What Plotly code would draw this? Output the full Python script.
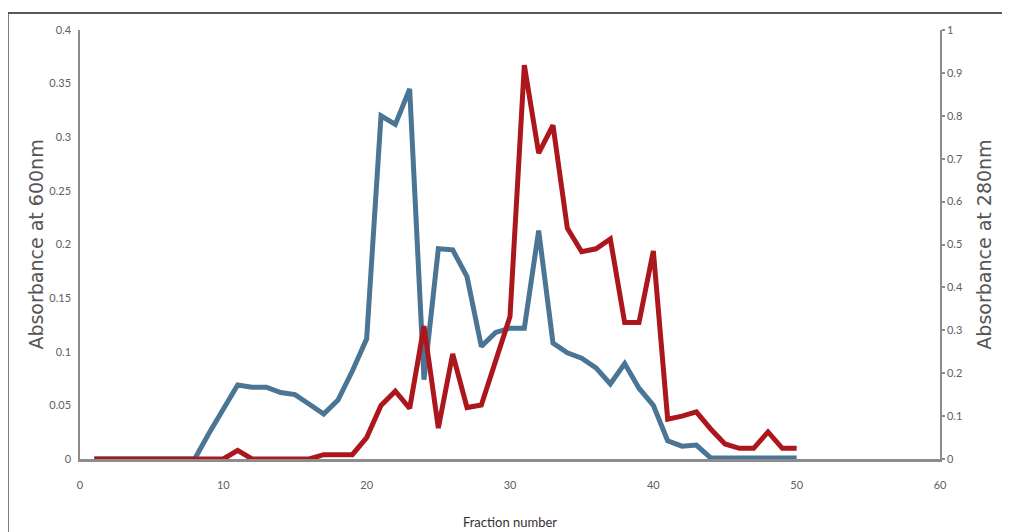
import plotly.graph_objects as go

fractions = [1, 2, 3, 4, 5, 6, 7, 8, 9, 10,
             11, 12, 13, 14, 15, 16, 17, 18, 19, 20,
             21, 22, 23, 24, 25, 26, 27, 28, 29, 30,
             31, 32, 33, 34, 35, 36, 37, 38, 39, 40,
             41, 42, 43, 44, 45, 46, 47, 48, 49, 50]

abs600 = [0, 0, 0, 0, 0, 0, 0, 0, 0.024, 0.047,
          0.069, 0.067, 0.067, 0.062, 0.060, 0.051, 0.042, 0.055, 0.082, 0.112,
          0.320, 0.312, 0.345, 0.074, 0.196, 0.195, 0.170, 0.105, 0.118, 0.122,
          0.122, 0.213, 0.108, 0.099, 0.094, 0.085, 0.070, 0.089, 0.066, 0.050,
          0.017, 0.012, 0.013, 0.001, 0.001, 0.001, 0.001, 0.001, 0.001, 0.001]

abs280 = [0, 0, 0, 0, 0, 0, 0, 0, 0, 0,
          0.020, 0, 0, 0, 0, 0, 0.010, 0.010, 0.010, 0.050,
          0.125, 0.158, 0.118, 0.310, 0.072, 0.245, 0.120, 0.126, 0.230, 0.332,
          0.918, 0.713, 0.778, 0.538, 0.483, 0.490, 0.513, 0.318, 0.318, 0.485,
          0.093, 0.100, 0.110, 0.070, 0.035, 0.025, 0.025, 0.063, 0.025, 0.025]

x_ticks = [0, 10, 20, 30, 40, 50, 60]
left_ticks = [0, 0.05, 0.1, 0.15, 0.2, 0.25, 0.3, 0.35, 0.4]
right_ticks = [0, 0.1, 0.2, 0.3, 0.4, 0.5, 0.6, 0.7, 0.8, 0.9, 1]

BLUE = "#4a7595"
RED = "#ab171c"
GRAY_TXT = "#606060"
AXIS = "#8c8c8c"
FONT = "Lato, 'Open Sans', sans-serif"
TITLE_FONT = "'DejaVu Sans', Verdana, sans-serif"

fig = go.Figure()
fig.add_trace(go.Scatter(x=fractions, y=abs600, mode="lines",
                         line=dict(color=BLUE, width=5), yaxis="y",
                         name="Absorbance at 600nm"))
fig.add_trace(go.Scatter(x=fractions, y=abs280, mode="lines",
                         line=dict(color=RED, width=5), yaxis="y2",
                         name="Absorbance at 280nm"))

fig.update_layout(
    width=1002, height=524,
    margin=dict(l=72, r=70, t=22, b=73),
    paper_bgcolor="white", plot_bgcolor="white",
    showlegend=False,
    font=dict(family=FONT, color=GRAY_TXT, size=11),
    xaxis=dict(
        range=[0, 60], tickvals=x_ticks, ticktext=[str(v) for v in x_ticks],
        automargin=False,
        showgrid=False, zeroline=False, showline=True, linecolor=AXIS, linewidth=2.5,
        ticks="", ticklabelstandoff=14,
        title=dict(text="Fraction number", font=dict(family=FONT, size=13, color="#333333"), standoff=28),
    ),
    yaxis=dict(
        range=[0, 0.4], tickvals=left_ticks, ticktext=[f"{v:g}" for v in left_ticks],
        automargin=False,
        showgrid=False, zeroline=False, showline=True, linecolor=AXIS, linewidth=1.5,
        ticks="", ticklabelstandoff=5,
        title=dict(text="Absorbance at 600nm", font=dict(family=TITLE_FONT, size=19, color="#555555"), standoff=1),
    ),
    yaxis2=dict(
        range=[0, 1], tickvals=right_ticks, ticktext=[f"{v:g}" for v in right_ticks],
        overlaying="y", side="right", anchor="x", automargin=False,
        showgrid=False, zeroline=False, showline=True, linecolor=AXIS, linewidth=1.5,
        ticks="outside", ticklen=3, tickcolor=AXIS, tickwidth=1.5, ticklabelstandoff=0,
        title=dict(text="Absorbance at 280nm", font=dict(family=TITLE_FONT, size=19, color="#555555"), standoff=16),
    ),
    shapes=[
        dict(type="line", xref="paper", yref="paper",
             x0=(8 - 80) / 860, x1=(1012 - 80) / 860,
             y0=(459 - 13) / 429, y1=(459 - 13) / 429,
             line=dict(color="#222222", width=1.5)),
        dict(type="line", xref="paper", yref="paper",
             x0=(8 - 80) / 860, x1=(8 - 80) / 860,
             y0=(459 - 13) / 429, y1=(459 - 540) / 429,
             line=dict(color="#555555", width=1.5)),
    ],
)

fig.write_html("out.html")
